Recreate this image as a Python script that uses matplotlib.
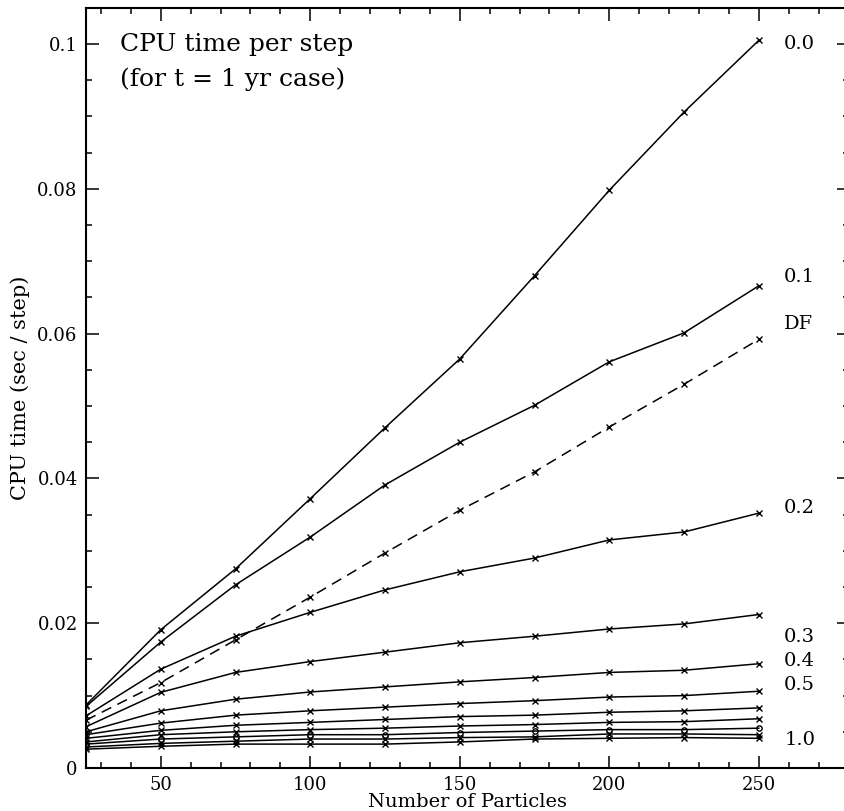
import matplotlib
matplotlib.use("Agg")
import matplotlib.pyplot as plt
from matplotlib.ticker import MultipleLocator, FixedLocator

plt.rcParams['font.family'] = ['DejaVu Serif']

n_particles = [25, 50, 75, 100, 125, 150, 175, 200, 225, 250]

cpu_00 = [0.0087, 0.0191, 0.0275, 0.0372, 0.0470, 0.0565, 0.0680, 0.0798, 0.0906, 0.1005]
cpu_01 = [0.0085, 0.0174, 0.0253, 0.0319, 0.0391, 0.0450, 0.0501, 0.0561, 0.0601, 0.0666]
cpu_df = [0.0066, 0.0118, 0.0177, 0.0236, 0.0297, 0.0356, 0.0409, 0.0471, 0.0530, 0.0592]
cpu_02 = [0.0072, 0.01365, 0.0182, 0.0215, 0.0246, 0.0271, 0.0290, 0.0315, 0.0326, 0.0352]
cpu_03 = [0.0057, 0.01045, 0.0132, 0.0147, 0.0160, 0.0173, 0.0182, 0.0192, 0.0199, 0.0212]
cpu_04 = [0.0050, 0.0079, 0.0095, 0.0105, 0.0112, 0.0119, 0.0125, 0.0132, 0.0135, 0.0144]
cpu_05 = [0.0046, 0.0062, 0.0073, 0.0079, 0.0084, 0.0089, 0.0093, 0.0098, 0.0100, 0.0106]
cpu_06 = [0.0041, 0.0052, 0.0059, 0.0063, 0.0067, 0.0071, 0.0073, 0.0077, 0.0079, 0.0083]
cpu_07 = [0.0036, 0.0046, 0.0050, 0.0053, 0.0055, 0.0058, 0.0060, 0.0063, 0.0064, 0.0068]
cpu_08 = [0.0033, 0.0040, 0.0043, 0.0046, 0.0046, 0.0049, 0.0051, 0.0053, 0.0053, 0.0055]
cpu_09 = [0.0029, 0.0034, 0.0037, 0.0040, 0.0040, 0.0042, 0.0043, 0.0047, 0.0047, 0.0046]
cpu_10 = [0.0026, 0.0030, 0.0033, 0.0033, 0.0033, 0.0036, 0.0040, 0.0041, 0.0042, 0.0041]

solid_series = [cpu_00, cpu_01, cpu_02, cpu_03, cpu_04, cpu_05,
                cpu_06, cpu_07, cpu_08, cpu_09, cpu_10]
solid_markers = ['x', 'x', 'x', 'x', 'x', 'x', 'x', 'x', 'o', 'x', 'x']

right_labels = ['0.0', '0.1', 'DF', '0.2', '0.3', '0.4', '0.5', '1.0']
right_label_y = [0.1000, 0.0678, 0.0613, 0.0359, 0.0181, 0.0148, 0.0115, 0.0039]

title_lines = ['CPU time per step', '(for t = 1 yr case)']

fig = plt.figure(figsize=(8.44, 8.11), dpi=100)
ax = fig.add_axes([86 / 844, 43 / 811, (848.5 - 86) / 844, (768 - 7.8) / 811])

for ys, mk in zip(solid_series, solid_markers):
    if mk == 'o':
        ax.plot(n_particles, ys, color='black', lw=1.1, marker='o', ms=3.8,
                mfc='none', mew=1.0)
    else:
        ax.plot(n_particles, ys, color='black', lw=1.1, marker='x', ms=4.8, mew=1.0)

ax.plot(n_particles, cpu_df, color='black', lw=1.1, marker='x', ms=4.8, mew=1.0,
        dashes=(7, 4.5))

ax.set_xlim(25, 280)
ax.set_ylim(0, 0.105)

ax.xaxis.set_major_locator(FixedLocator([50, 100, 150, 200, 250]))
ax.xaxis.set_minor_locator(MultipleLocator(10))
ax.yaxis.set_major_locator(FixedLocator([0, 0.02, 0.04, 0.06, 0.08, 0.1]))
ax.yaxis.set_minor_locator(MultipleLocator(0.005))
ax.set_yticklabels(['0', '0.02', '0.04', '0.06', '0.08', '0.1'])

ax.tick_params(which='both', direction='in', top=True, right=True,
               labelsize=13, width=1.1)
ax.tick_params(which='major', length=9, pad=6)
ax.tick_params(which='minor', length=4.5)
for s in ax.spines.values():
    s.set_linewidth(1.5)

ax.set_xlabel('Number of Particles', fontsize=14, labelpad=-1)
ax.set_ylabel('CPU time (sec / step)', fontsize=15, labelpad=5)

for lab, yv in zip(right_labels, right_label_y):
    ax.text(258.5, yv, lab, fontsize=14, va='center', ha='left')

ax.text(36.5, 0.1, title_lines[0], fontsize=18, va='center', ha='left')
ax.text(36.5, 0.0952, title_lines[1], fontsize=18, va='center', ha='left')

fig.savefig('out.png', dpi=100)
